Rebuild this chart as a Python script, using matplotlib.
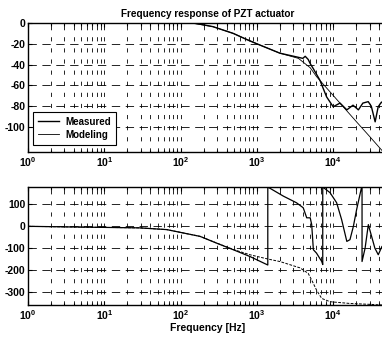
import numpy as np
import matplotlib
matplotlib.use('Agg')
import matplotlib.pyplot as plt

plt.rcParams['font.family'] = ['Liberation Sans', 'DejaVu Sans']
plt.rcParams['font.weight'] = 'bold'
plt.rcParams['axes.unicode_minus'] = False
plt.rcParams['mathtext.fontset'] = 'custom'
plt.rcParams['mathtext.bf'] = 'Liberation Sans:bold'
plt.rcParams['mathtext.rm'] = 'Liberation Sans:bold'
plt.rcParams['lines.scale_dashes'] = False

# magnitude (dB)
mag_meas_f = [1, 10, 100, 150, 265, 490, 740, 1000, 2000, 3500, 4000, 4300, 4700, 5000,
              5500, 6700, 8200, 10000, 12300, 15100, 18200, 21400, 24500, 28800, 31600,
              35500, 38900, 43000, 50000]
mag_meas_db = [0, 0, 0, 0, -3.5, -10, -16, -20, -29, -33, -34, -32, -35, -39,
               -44, -55, -71, -80.5, -77, -83.5, -79, -83.5, -77, -75.6, -80,
               -95, -80.5, -76, -80]

mag_model_f = [1, 10, 100, 150, 265, 490, 1000, 2000, 3500, 5000, 6060,
               10000, 20000, 30000, 43000, 50000]
mag_model_db = [0, 0, 0, -0.5, -3.5, -10, -20, -29, -34, -43, -51.6,
                -69.6, -94.6, -109, -122, -127.5]

# phase (deg), wrapped as in the original
ph_meas_f = [1, 8.7, 29, 66, 180, 297, 490, 810, 1390, 1390, 2230, 3300, 4050, 4500,
             5000, 5230, 5500, 6060, 7080, 7300, 7300, 9100, 11100, 12900, 15100, 16600,
             18400, 20300, 23500, 23900, 23900, 26200, 28900, 31900, 35200, 39000, 43600, 50000]
ph_meas_deg = [0, -4.6, -7, -15, -46, -77, -107, -138, -177, 180, 138, 108, 85, 39,
               39, 8, -107, -123, -161, -175, 180, 154, 108, 31, -69, -61,
               0, 77, 177, 180, -161, -100, 8, -46, -100, -130, -92, -80]

ph_model_f = [1, 8.7, 29, 66, 180, 300, 500, 810, 1410, 2000, 3670, 4700, 5230, 6060,
              7080, 9100, 16600, 30000, 50000]
ph_model_deg = [0, -4.6, -7, -15, -46, -77, -107, -130, -150, -161, -190, -215, -246, -292,
                -330, -345, -353, -357, -361]

W, H = 382, 337
fig = plt.figure(figsize=(W / 100, H / 100), dpi=100)

x0 = 28 / W
wdt = 358.5 / W
ax1 = fig.add_axes([x0, 1 - 152 / H, wdt, 129 / H])
ax2 = fig.add_axes([x0, 1 - 305 / H, wdt, 118 / H])

grid_ls = (0, (3, 5))
decades = [1, 10, 100, 1000, 10000]
dec_labels = [r'$\mathbf{10^{%d}}$' % i for i in range(5)]

for ax in (ax1, ax2):
    ax.set_xscale('log')
    ax.set_xlim(1, 5e4)
    ax.set_xticks(decades)
    ax.set_xticklabels(dec_labels)
    ax.grid(True, which='both', axis='x', color='black', linestyle=grid_ls, linewidth=0.6)
    ax.grid(True, which='major', axis='y', color='black', linestyle=(0, (6, 4)), linewidth=0.6)
    ax.tick_params(which='both', direction='in', top=True, right=True, labelsize=7.5,
                   width=0.8, pad=2)
    ax.tick_params(which='major', length=3)
    ax.tick_params(which='minor', length=1.8)
    for s in ax.spines.values():
        s.set_linewidth(1.0)
    ax.set_axisbelow(True)

ax1.plot(mag_meas_f, mag_meas_db, color='black', linewidth=1.0, label='Measured')
ax1.plot(mag_model_f, mag_model_db, color='black', linewidth=0.6, label='Modeling')
ax1.set_ylim(-124, 0)
ax1.set_yticks([0, -20, -40, -60, -80, -100])
ax1.set_title('Frequency response of PZT actuator', fontsize=7.2, fontweight='bold', pad=4)
leg = ax1.legend(loc='upper left', bbox_to_anchor=(0.014, 0.31), fontsize=7,
                 fancybox=False, framealpha=1, edgecolor='black', borderpad=0.5,
                 handlelength=2.2, handletextpad=0.6, labelspacing=0.3, borderaxespad=0)
leg.get_frame().set_linewidth(0.8)

ax2.plot(ph_meas_f, ph_meas_deg, color='black', linewidth=0.9)
ax2.plot(ph_model_f, ph_model_deg, color='black', linewidth=0.7, linestyle=(0, (2, 1)))
ax2.set_ylim(-360, 180)
ax2.set_yticks([100, 0, -100, -200, -300])
ax2.set_xlabel('Frequency [Hz]', fontsize=7.5, fontweight='bold', labelpad=1)

plt.savefig('out.png', dpi=100)
